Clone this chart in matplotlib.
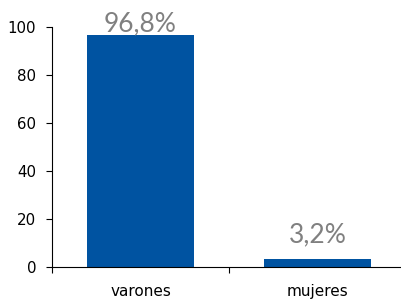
import matplotlib
matplotlib.use("Agg")
import matplotlib.pyplot as plt

categories = ["varones", "mujeres"]
values = [96.8, 3.2]
labels = ["96,8%", "3,2%"]
yticks = [0, 20, 40, 60, 80, 100]

bar_color = "#0053A1"
label_color = "#808080"
label_offsets = [-1, 9]  # points above bar top

fig = plt.figure(figsize=(4.01, 3.02), dpi=100)
ax = fig.add_axes([52 / 401, 35 / 302, 354 / 401, 240 / 302])

x = list(range(len(categories)))
ax.bar(x, values, width=0.6, color=bar_color, zorder=2)

for xi, v, lab, off in zip(x, values, labels, label_offsets):
    ax.annotate(lab, (xi, v), xytext=(0, off), textcoords="offset points",
                ha="center", va="bottom", color=label_color,
                fontsize=19, family="Lato")

ax.set_xlim(-0.5, 1.5)
ax.set_ylim(0, 100)
ax.set_yticks(yticks)
ax.tick_params(axis="y", direction="out", length=4, labelsize=10.8, pad=7.5)

# category boundaries as major ticks, labels on minor ticks
ax.set_xticks([-0.5, 0.5, 1.5])
ax.set_xticklabels([])
ax.set_xticks(x, minor=True)
ax.set_xticklabels(categories, minor=True, fontsize=11)
ax.tick_params(axis="x", which="major", direction="out", length=4)
ax.tick_params(axis="x", which="minor", length=0, pad=12)

for s in ["top", "right"]:
    ax.spines[s].set_visible(False)

plt.savefig("out.png", dpi=100)
plt.close()
